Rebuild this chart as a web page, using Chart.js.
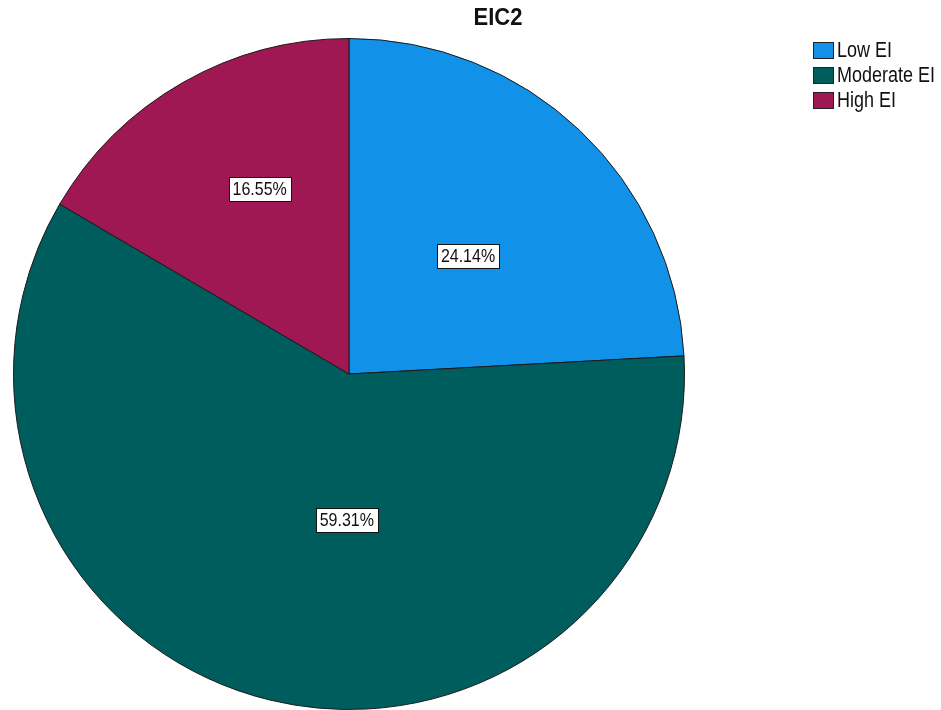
<!DOCTYPE html>
<html lang="en">
  <head>
    <meta charset="UTF-8" />
    <title>EIC2</title>
    <script src="https://cdn.jsdelivr.net/npm/chart.js"></script>
    <style>
      html, body { margin: 0; padding: 0; background: #fff; }
      #wrap { width: 941px; height: 710px; }
    </style>
  </head>
  <body>
    <div id="wrap"><canvas id="pie" width="941" height="710"></canvas></div>
    <script>
      // data
      const chartTitle = "EIC2";
      const categories = ["Low EI", "Moderate EI", "High EI"];
      const percents = [24.14, 59.31, 16.55];
      const sliceColors = ["#1192e8", "#005d5d", "#9f1853"];

      // where SPSS puts each label inside its slice: [share of slice angle, share of radius]
      const labelSpots = [[0.52, 0.5], [0.44, 0.435], [0.567, 0.612]];

      const FONT = "'Liberation Sans', Arial, sans-serif";

      // text looks a bit tall in the original, so stretch it vertically
      function tallText(ctx, text, x, y, sy) {
        ctx.save();
        ctx.translate(x, y);
        ctx.scale(1, sy);
        ctx.fillText(text, 0, 0);
        ctx.restore();
      }

      const decorations = {
        id: "decorations",
        afterDatasetsDraw(chart) {
          const ctx = chart.ctx;
          const meta = chart.getDatasetMeta(0);
          ctx.save();
          ctx.font = "16px " + FONT;
          ctx.textAlign = "center";
          ctx.textBaseline = "middle";
          meta.data.forEach((arc, i) => {
            const p = arc.getProps(["x", "y", "startAngle", "endAngle", "outerRadius"], true);
            const a = p.startAngle + (p.endAngle - p.startAngle) * labelSpots[i][0];
            const r = p.outerRadius * labelSpots[i][1];
            const cx = p.x + Math.cos(a) * r;
            const cy = p.y + Math.sin(a) * r;
            const txt = percents[i].toFixed(2) + "%";
            const w = ctx.measureText(txt).width + 8;
            const h = 24;
            ctx.fillStyle = "#fff";
            ctx.fillRect(Math.round(cx - w / 2) + 0.5, Math.round(cy - h / 2) + 0.5, Math.round(w), h);
            ctx.strokeStyle = "#111";
            ctx.lineWidth = 1;
            ctx.strokeRect(Math.round(cx - w / 2) + 0.5, Math.round(cy - h / 2) + 0.5, Math.round(w), h);
            ctx.fillStyle = "#111";
            tallText(ctx, txt, cx, cy + 1, 1.2);
          });

          // title
          ctx.font = "bold 22px " + FONT;
          ctx.fillStyle = "#111";
          tallText(ctx, chartTitle, 498, 19, 1.05);

          // legend
          ctx.font = "18px " + FONT;
          ctx.textAlign = "left";
          categories.forEach((name, i) => {
            const y = 42 + i * 25;
            ctx.fillStyle = sliceColors[i];
            ctx.fillRect(813, y, 21, 17);
            ctx.strokeStyle = "#222";
            ctx.strokeRect(813.5, y + 0.5, 20, 16);
            ctx.fillStyle = "#111";
            tallText(ctx, name, 837, y + 9, 1.2);
          });
          ctx.restore();
        },
      };

      new Chart(document.getElementById("pie"), {
        type: "pie",
        data: {
          labels: categories,
          datasets: [
            {
              data: percents,
              backgroundColor: sliceColors,
              borderColor: "#1a1a1a",
              borderWidth: 1,
            },
          ],
        },
        options: {
          responsive: false,
          animation: false,
          layout: { padding: { left: 13, top: 38, right: 256, bottom: 0 } },
          plugins: {
            legend: { display: false },
            title: { display: false },
            tooltip: { enabled: false },
          },
        },
        plugins: [decorations],
      });
    </script>
  </body>
</html>
